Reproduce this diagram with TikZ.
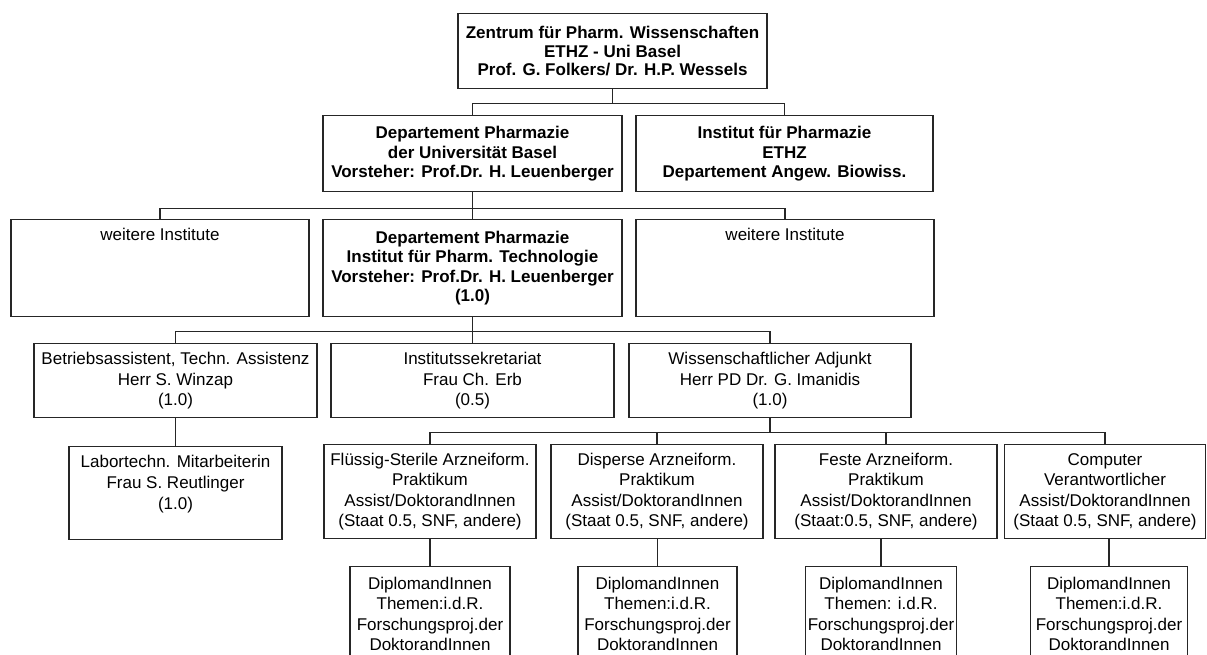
\documentclass[tikz,border=0pt]{standalone}
\usepackage{fontspec}
\setmainfont{Liberation Sans}
\usetikzlibrary{positioning}

\begin{document}
\begin{tikzpicture}[x=1pt, y=-1pt,
    unit/.style={draw=black!85, line width=1.4pt, fill=white, anchor=north, align=center, inner sep=2pt, font=\fontsize{17}{20.5}\selectfont},
    headunit/.style={unit, font=\fontsize{17}{19.5}\selectfont\bfseries},
    toptext/.style={label={[anchor=north, yshift=-7pt, align=center, inner sep=2pt, font=\fontsize{17}{21}\selectfont]north:#1}},
    link/.style={draw=black!85, line width=1.2pt}
  ]
    \clip (0,0) rectangle (1207,655);

    % Zentrum und Departemente
    \node[headunit, minimum width=309pt, minimum height=75pt, font=\fontsize{17}{18.5}\selectfont\bfseries] (zentrum) at (612.5,13) {Zentrum für Pharm. Wissenschaften\\ETHZ - Uni Basel\\Prof. G. Folkers/ Dr. H.P. Wessels};
    \node[headunit, minimum width=299pt, minimum height=76pt] (deptbas) at (472.5,115) {Departement Pharmazie\\der Universität Basel\\Vorsteher: Prof.Dr. H. Leuenberger};
    \node[headunit, minimum width=297pt, minimum height=76pt] (ifpethz) at (784.5,115) {Institut für Pharmazie\\ETHZ\\Departement Angew. Biowiss.};

    % Institute
    \node[unit, minimum width=298pt, minimum height=97pt, toptext={weitere Institute}] (weiterel) at (160,219) {};
    \node[headunit, minimum width=299pt, minimum height=97pt] (deptipt) at (472.5,219) {Departement Pharmazie\\Institut für Pharm. Technologie\\Vorsteher: Prof.Dr. H. Leuenberger\\(1.0)};
    \node[unit, minimum width=298pt, minimum height=97pt, toptext={weitere Institute}] (weiterer) at (785,219) {};

    % Mitarbeiter
    \node[unit, minimum width=283pt, minimum height=74pt] (betrieb) at (175.5,343) {Betriebsassistent, Techn. Assistenz\\Herr S. Winzap\\(1.0)};
    \node[unit, minimum width=283pt, minimum height=74pt] (sekret) at (472.5,343) {Institutssekretariat\\Frau Ch. Erb\\(0.5)};
    \node[unit, minimum width=282pt, minimum height=74pt] (wiss) at (770,343) {Wissenschaftlicher Adjunkt\\Herr PD Dr. G. Imanidis\\(1.0)};
    \node[unit, minimum width=213pt, minimum height=93pt, toptext={Labortechn. Mitarbeiterin\\Frau S. Reutlinger\\(1.0)}] (labor) at (175.5,446) {};

    % Praktika
    \node[unit, minimum width=212pt, minimum height=94pt] (fluessig) at (430,444) {Flüssig-Sterile Arzneiform.\\Praktikum\\Assist/DoktorandInnen\\(Staat 0.5, SNF, andere)};
    \node[unit, minimum width=212pt, minimum height=94pt] (disperse) at (657,444) {Disperse Arzneiform.\\Praktikum\\Assist/DoktorandInnen\\(Staat 0.5, SNF, andere)};
    \node[unit, minimum width=222pt, minimum height=94pt] (feste) at (886,444) {Feste Arzneiform.\\Praktikum\\Assist/DoktorandInnen\\(Staat:0.5, SNF, andere)};
    \node[unit, minimum width=201pt, minimum height=94pt] (computer) at (1105,444) {Computer\\Verantwortlicher\\Assist/DoktorandInnen\\(Staat 0.5, SNF, andere)};

    % DiplomandInnen
    \node[unit, minimum width=160pt, minimum height=94pt] (fluessig-dipl) at (430,566) {DiplomandInnen\\Themen:i.d.R.\\Forschungsproj.der\\DoktorandInnen};
    \node[unit, minimum width=159pt, minimum height=94pt] (disperse-dipl) at (657.5,566) {DiplomandInnen\\Themen:i.d.R.\\Forschungsproj.der\\DoktorandInnen};
    \node[unit, minimum width=151pt, minimum height=94pt] (feste-dipl) at (881,566) {DiplomandInnen\\Themen: i.d.R.\\Forschungsproj.der\\DoktorandInnen};
    \node[unit, minimum width=157pt, minimum height=94pt] (computer-dipl) at (1109,566) {DiplomandInnen\\Themen:i.d.R.\\Forschungsproj.der\\DoktorandInnen};

    % Verbindungen
    \draw[link] (zentrum.south) -- ++(0,14) -| (deptbas.north);
    \draw[link] (zentrum.south) -- ++(0,14) -| (ifpethz.north);
    \draw[link] (deptbas.south) -- ++(0,16) -| (weiterel.north);
    \draw[link] (deptbas.south) -- (deptipt.north);
    \draw[link] (deptbas.south) -- ++(0,16) -| (weiterer.north);
    \draw[link] (deptipt.south) -- ++(0,14) -| (betrieb.north);
    \draw[link] (deptipt.south) -- (sekret.north);
    \draw[link] (deptipt.south) -- ++(0,14) -| (wiss.north);
    \draw[link] (betrieb.south) -- (labor.north);
    \foreach \n in {fluessig, disperse, feste, computer} {
      \draw[link] (wiss.south) -- ++(0,14) -| (\n.north);
      \draw[link] (\n-dipl.north |- \n.south) -- (\n-dipl.north);
    }
\end{tikzpicture}
\end{document}
